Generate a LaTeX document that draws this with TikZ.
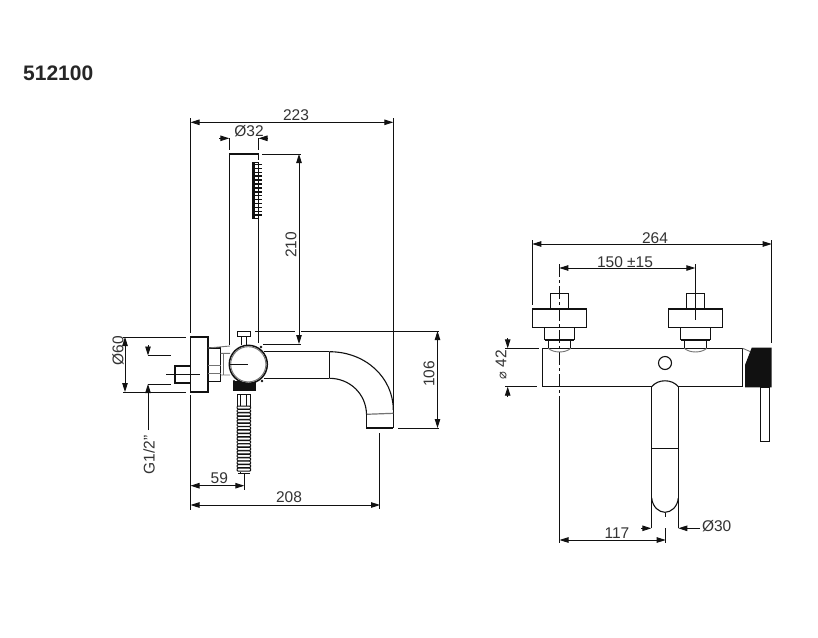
\documentclass[tikz,border=0pt]{standalone}
\usepackage{fontspec}
\setmainfont{Liberation Sans}
\newfontfamily\symfont{DejaVu Sans}
\usetikzlibrary{arrows.meta}
\definecolor{ink}{HTML}{111111}
\definecolor{lab}{HTML}{333333}
\tikzset{
  part/.style={draw=ink,line width=1.1pt,line join=miter},
  heavy/.style={draw=ink,line width=1.5pt},
  thin/.style={draw=ink,line width=0.8pt},
  soft/.style={draw=black!55,line width=0.9pt},
  dim/.style={draw=ink,line width=0.9pt},
  both/.style={dim,{Triangle[length=9pt,width=5.5pt]}-{Triangle[length=9pt,width=5.5pt]}},
  tip/.style={dim,-{Triangle[length=9pt,width=5.5pt]}},
  lbl/.style={font=\fontsize{15.5}{16}\selectfont,text=lab,inner sep=0pt},
  centre/.style={draw=ink,line width=0.9pt,dash pattern=on 13pt off 3pt on 3pt off 3pt},
}
\begin{document}
\begin{tikzpicture}[x=1pt,y=-1pt]
\useasboundingbox (0,0) rectangle (818,637);
\fill[white] (0,0) rectangle (818,637);
\node[font=\fontsize{21}{22}\selectfont\bfseries,text=black!85,inner sep=0pt,anchor=west] (title) at (23,73.5) {512100};

% ---- side view: extension lines and dimensions
\draw[dim] (190.5,118)--(190.5,333);
\draw[dim] (190.5,395)--(190.5,510);
\draw[dim] (393.3,118)--(393.3,428);
\draw[both] (190.5,122.3)--(393.3,122.3);
\node[lbl] (d223) at (296,115.5) {223};
\draw[dim] (229.3,138)--(229.3,150);
\draw[dim] (258.5,138)--(258.5,150);
\draw[tip] (219,138.3)--(229.3,138.3);
\draw[tip] (268,138.3)--(258.5,138.3);
\node[lbl] (d32) at (249,131) {Ø32};
\draw[dim] (262,154)--(301,154);
\draw[dim] (263,344)--(301,344);
\draw[both] (299,154)--(299,344);
\node[lbl,rotate=90] (d210) at (291,245) {210};
\draw[dim] (255,331)--(295,331) (301,331)--(439,331);
\draw[dim] (398,428)--(439,428);
\draw[both] (437.5,331)--(437.5,428);
\node[lbl,rotate=90] (d106) at (429,374) {106};
\draw[dim] (123,337)--(186,337) (123,392)--(186,392);
\draw[both] (125,337)--(125,392);
\node[lbl,rotate=90] (d60) at (118,351) {Ø60};
\draw[dim] (148,355.5)--(171,355.5) (148,384)--(171,384);
\draw[tip] (148,345)--(148,355.5);
\draw[tip] (148,430)--(148,384);
\node[lbl,rotate=90] (dg) at (149,455) {G1/2"};
\draw[both] (190.5,485.7)--(244.3,485.7);
\draw[dim] (244.3,474)--(244.3,490);
\node[lbl] (d59) at (219.3,478) {59};
\draw[both] (190.5,505)--(380,505);
\draw[dim] (379.5,433)--(379.5,509);
\node[lbl] (d208) at (289,497) {208};

% ---- side view: wall plate, stub, nut
\draw[part] (190.7,337) rectangle (208,392);
\draw[heavy] (190.7,366) -- (175,366) -- (175,383) -- (190.7,383);
\draw[thin] (166,374)--(200,374);
\draw[part] (208,348) rectangle (220.7,381.7);
\draw[soft] (208,365)--(220.7,365) (208,373)--(220.7,373);
\draw[soft] (208,348)--(230,346) (220.7,353.3)--(230,353.3) (220.7,375)--(230,375);
\draw[soft] (223,353.3)--(223,375);

% ---- hand shower
\draw[part] (229.3,345)--(229.3,154)--(258.7,154)--(258.7,160);
\draw[part] (258.7,219)--(258.7,343);
\fill[ink] (252.3,162) rectangle (254.5,218.5);
\draw[thin] (252.3,162) rectangle (258.7,218.5);
\foreach \k in {0,...,13}{
  \draw[ink,line width=1.5pt] (254,{164.5+\k*3.9})--(261.5,{164.5+\k*3.9});
}
\draw[part] (241.7,345)--(241.7,336.7) (246.7,345)--(246.7,336.7);
\draw[heavy,fill=white] (237.7,331.7) rectangle (250.7,336.7);

% ---- tap body side: hose and connection
\fill[ink] (233,381) rectangle (256,391);
\draw[thin] (237.5,394) rectangle (250.5,407);
\draw[thin] (240.5,394)--(240.5,407);
\draw[thin] (246.5,394)--(246.5,407);
\draw[thin] (237,394)--(251,394);
\foreach \k in {0,...,18}{
  \draw[ink,line width=1pt,rounded corners=1pt,fill=white] (237,{406+\k*3.45}) rectangle (250.7,{409+\k*3.45});
}
\draw[thin] (240.5,472)--(240.5,473) (238,473.5)--(250,473.5);

% ---- spout
\draw[part] (264,351.7)--(329.3,351.7);
\draw[part] (264,378.3)--(329.3,378.3);
\draw[part] (329.3,351.7)--(329.3,378.3);
\draw[part] (329.3,351.7) .. controls (366,351.7) and (393.3,378) .. (393.3,410);
\draw[part] (329.3,378.3) .. controls (350,378.3) and (366,394) .. (366.5,414);
\draw[soft,line width=1.2pt] (366.5,414.3)--(393.3,413.3);
\draw[part] (366.5,414)--(366.5,428)--(393.3,428);
\draw[heavy,fill=white] (248.3,364.3) circle (19);
\draw[soft] (248.3,364.3) circle (17.6);
\draw[thin] (229.5,364.3)--(248.3,364.3);
\fill[ink] (261,347) circle (1.3) (262,381) circle (1.3) (234,381) circle (1.2);

% ---- front view: dimensions
\draw[dim] (532.3,240)--(532.3,305);
\draw[dim] (771.7,240)--(771.7,343);
\draw[both] (532.3,244)--(771.7,244);
\node[lbl] (d264) at (655,238) {264};
\draw[both] (559.3,268)--(695.3,268);
\node[lbl] (d150) at (625,262) {150 ±15};
\draw[dim] (505,348.3)--(539,348.3) (505,386.7)--(537,386.7);
\draw[tip] (507.7,338)--(507.7,348.3);
\draw[tip] (507.7,397)--(507.7,386.7);
\node[lbl,rotate=90] (d42) at (501,365) {{\symfont\fontsize{13}{14}\selectfont ⌀} 42};
\draw[both] (559.5,540)--(665.7,540);
\node[lbl] (d117) at (617,532.7) {117};
\draw[dim] (665.7,513)--(665.7,517) (665.7,528)--(665.7,543);
\draw[tip] (641,528.3)--(651.3,528.3);
\draw[tip] (700,528.3)--(678.3,528.3);
\node[lbl] (d30) at (716.7,525.7) {Ø30};
\draw[centre] (559.3,264)--(559.3,400);
\draw[dim] (559.5,400)--(559.5,543);
\draw[dim] (695.3,264)--(695.3,320);

% ---- front view: body
\draw[part] (542.3,386.7)--(542.3,348.3)--(742.7,348.3)--(742.7,386.7)--(542.3,386.7);
\foreach \c in {559.5,695.5}{
  \draw[heavy] (\c-9.2,293.3) rectangle (\c+9.2,309);
  \draw[heavy] (\c-27.2,309) rectangle (\c+27.2,327.3);
  \draw[part] (\c-14.7,327.3)--(\c-14.7,340.3) (\c+14.7,327.3)--(\c+14.7,340.3);
  \draw[ink,line width=1.8pt] (\c-14.7,340.3)--(\c+14.7,340.3);
  \draw[part] (\c-11.2,340.3)--(\c-11.2,348.3) (\c+11.2,340.3)--(\c+11.2,348.3);
  \draw[soft] (\c-11.2,348.3) .. controls (\c-6,353.2) and (\c+6,353.2) .. (\c+11.2,348.3);
}
\draw[part] (665,363) circle (6.5);
\fill[ink] (751.7,347.7)--(771.7,347.7)--(771.7,387.3)--(745,387.3)--(745,365)--cycle;
\draw[soft] (742.7,348.3)--(750,351.5);
\draw[part] (760.3,387.3) rectangle (769.7,441.3);
% ---- front view: spout
\fill[white] (652,381) rectangle (678,388);
\draw[part] (651.7,386.7) .. controls (658,378.8) and (672,378.8) .. (678.3,386.7);
\draw[part] (651.7,386.7)--(651.7,528) (678.3,386.7)--(678.3,528);
\draw[part] (651.7,448.3)--(678.3,448.3);
\draw[part] (651.7,498) .. controls (652.5,507) and (659,512.3) .. (665,512.3) .. controls (671,512.3) and (677.5,507) .. (678.3,498);
\end{tikzpicture}
\end{document}
